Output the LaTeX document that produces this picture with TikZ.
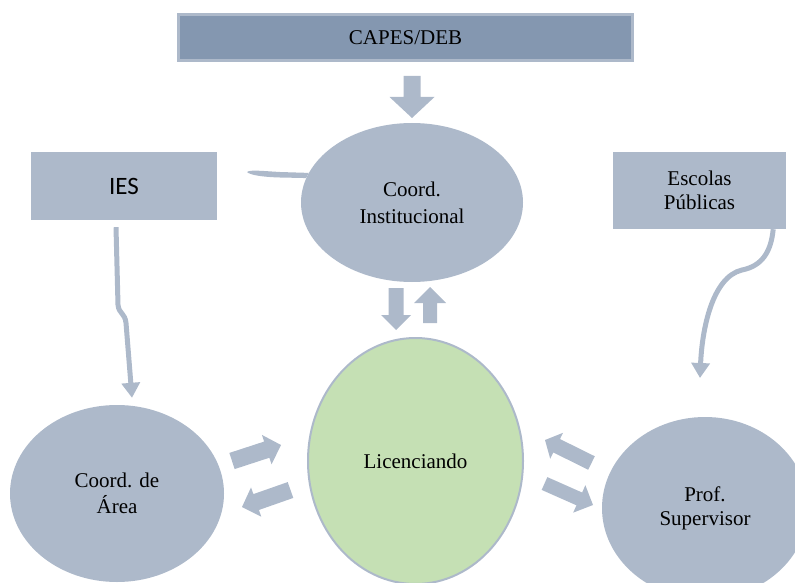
\documentclass[tikz,border=0pt]{standalone}
\usepackage{fontspec}
\setmainfont{Liberation Serif}
\newfontfamily\calfont{Carlito}
\usetikzlibrary{calc,shapes.geometric,arrows.meta}
\definecolor{nodeblue}{HTML}{ADB9CA}
\definecolor{capesblue}{HTML}{8497B0}
\definecolor{licgreen}{HTML}{C5E0B4}
% #1 tail, #2 tip, #3 shaft half width, #4 head half width, #5 head length
\newcommand{\mybarrow}[5]{%
  \coordinate (ba-h) at ($(#2)!#5!(#1)$);
  \fill[nodeblue] ($(#1)!#3!90:(#2)$) -- ($(ba-h)!#3!90:(#2)$) -- ($(ba-h)!#4!90:(#2)$) -- (#2)
    -- ($(ba-h)!#4!-90:(#2)$) -- ($(ba-h)!#3!-90:(#2)$) -- ($(#1)!#3!-90:(#2)$) -- cycle;}
\begin{document}
\begin{tikzpicture}[x=1pt,y=-1pt,
  box/.style={rectangle, fill=nodeblue, inner sep=0pt, align=center, font=\fontsize{21}{24}\selectfont},
  oval/.style={ellipse, fill=nodeblue, inner sep=0pt, align=center, font=\fontsize{21}{25}\selectfont},
  conn/.style={draw=nodeblue, line width=5pt, -{Triangle[width=18pt,length=15pt]}}]
\useasboundingbox (0,0) rectangle (795,583);

% nodes
\node[box, fill=capesblue, draw=nodeblue, line width=2.5pt, minimum width=454pt, minimum height=46pt] (capes) at (405.5,37.5) {CAPES/DEB};
\node[box, font=\calfont\fontsize{25}{30}\selectfont, minimum width=186pt, minimum height=68pt] (ies) at (124,186) {IES};
\node[box, minimum width=173pt, minimum height=77pt] (esc) at (699.5,190.5) {Escolas\\Públicas};
\node[oval, font=\fontsize{21}{27}\selectfont, minimum width=222pt, minimum height=159pt] (ci) at (412,202.5) {Coord.\\Institucional};
\node[oval, fill=licgreen, draw=nodeblue, line width=2pt, minimum width=215pt, minimum height=246pt] (lic) at (415.5,461) {Licenciando};
\node[oval, font=\fontsize{21}{26}\selectfont, minimum width=214pt, minimum height=177pt] (ca) at (117,493.5) {Coord. de\\Área};
\node[oval, font=\fontsize{21}{24}\selectfont, minimum width=206pt, minimum height=182pt] (ps) at (705,508) {Prof.\\Supervisor};

% block arrows
\coordinate (a1t) at (412,76);    \coordinate (a1h) at (412,118);
\mybarrow{a1t}{a1h}{8.5pt}{22.5pt}{21pt}
\coordinate (a2t) at (396,288);   \coordinate (a2h) at (396,330);
\mybarrow{a2t}{a2h}{7.5pt}{15pt}{15pt}
\coordinate (a3t) at (430,323);   \coordinate (a3h) at (430,287);
\mybarrow{a3t}{a3h}{7pt}{16pt}{16pt}
\coordinate (a4t) at (232,461);   \coordinate (a4h) at (281,445);
\mybarrow{a4t}{a4h}{8.5pt}{15.5pt}{15pt}
\coordinate (a5t) at (290.5,490); \coordinate (a5h) at (242,507);
\mybarrow{a5t}{a5h}{8.4pt}{15.5pt}{15pt}
\coordinate (a6t) at (591.5,463); \coordinate (a6h) at (545,440);
\mybarrow{a6t}{a6h}{7.5pt}{14.5pt}{13pt}
\coordinate (a7t) at (544.5,483.5); \coordinate (a7h) at (593,505);
\mybarrow{a7t}{a7h}{7pt}{15pt}{15pt}

% curved connectors
\draw[conn] ([xshift=-8pt,yshift=-7pt]ies.south) -- (118,305)
  .. controls (119,314) and (125,313) .. (126,323) -- ([xshift=15pt,yshift=7pt]ca.north);
\coordinate (psin) at (700,378);
\draw[conn] ([xshift=-13pt]esc.south east) .. controls (771,252) and (762,266) .. (742,270)
  .. controls (712,277) and (702,330) .. (psin);
\coordinate (stub) at (247,172);
\fill[nodeblue] (stub) .. controls (250,169.5) and (262,171) .. (280,172) -- (ci.164) -- (ci.167)
  -- (280,177.5) .. controls (262,177) and (250,175) .. cycle;
\end{tikzpicture}
\end{document}
